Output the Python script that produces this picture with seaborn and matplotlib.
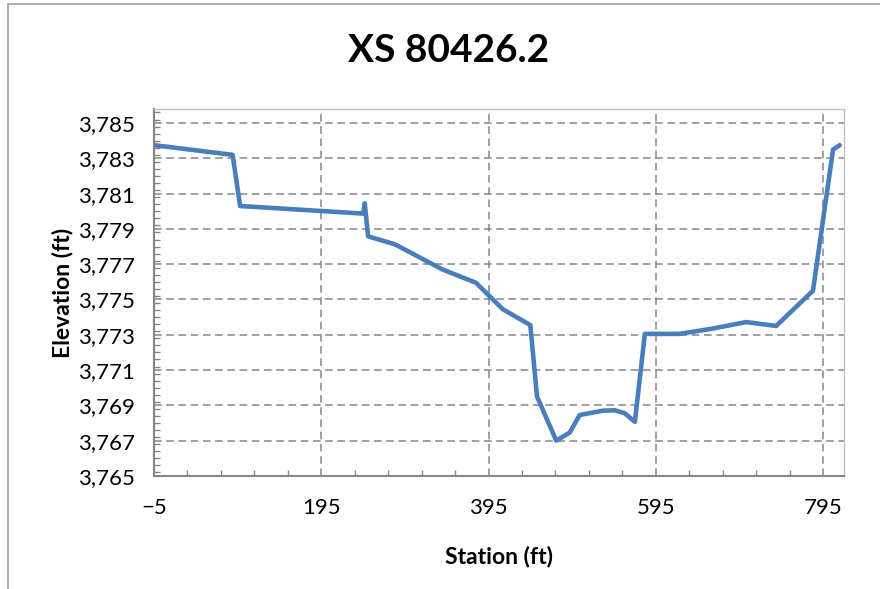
import numpy as np
import pandas as pd
import matplotlib
matplotlib.use("Agg")
import matplotlib.pyplot as plt
import seaborn as sns
from matplotlib.ticker import MultipleLocator, FuncFormatter
from matplotlib.patches import Rectangle

# cross section survey points
station = [-5, 89, 98, 245, 247, 251, 283, 340, 380, 412, 445, 453, 476, 492,
           504, 532, 546, 558, 570, 582, 623, 663, 703, 739, 783, 807, 815]
elevation = [3783.75, 3783.2, 3780.3, 3779.87, 3780.45, 3778.58, 3778.13, 3776.7,
             3775.95, 3774.45, 3773.55, 3769.5, 3767.0, 3767.45, 3768.45, 3768.7,
             3768.72, 3768.55, 3768.07, 3773.05, 3773.05, 3773.35, 3773.72,
             3773.5, 3775.5, 3783.5, 3783.75]
x_ticks = [-5, 195, 395, 595, 795]
y_ticks = list(range(3765, 3786, 2))

df = pd.DataFrame({"Station (ft)": station, "Elevation (ft)": elevation})

sns.set_style("white")
plt.rcParams["font.family"] = ["Lato", "DejaVu Sans"]
plt.rcParams["text.color"] = "black"
plt.rcParams["axes.labelcolor"] = "black"
plt.rcParams["xtick.color"] = "black"
plt.rcParams["ytick.color"] = "black"

fig = plt.figure(figsize=(8.8, 5.89), dpi=100)
ax = fig.add_axes([0.175, 0.192, 0.784, 0.623])

# outer chart frame
fig.patches.append(Rectangle((8 / 880, -0.01), 1.0, 1 - 4 / 589 + 0.01, transform=fig.transFigure,
                             fill=False, edgecolor="#A0A0A0", lw=1.2))

sns.lineplot(data=df, x="Station (ft)", y="Elevation (ft)", sort=False, estimator=None,
             color="#4A7EBB", lw=3.3, ax=ax, zorder=3)

ax.set_xlim(-5, 820)
ax.set_ylim(3765, 3785.8)
ax.set_xticks(x_ticks)
ax.set_yticks(y_ticks)
ax.xaxis.set_minor_locator(MultipleLocator(40, offset=-5))
ax.yaxis.set_minor_locator(MultipleLocator(0.4))
ax.yaxis.set_major_formatter(FuncFormatter(lambda v, p: f"{v:,.0f}"))

ax.grid(True, which="major", color="#868686", ls=(0, (5, 3)), lw=1.1)
ax.tick_params(which="major", direction="inout", length=8, width=1, color="#868686",
               labelsize=16, labelcolor="black")
ax.tick_params(axis="y", which="major", pad=10)
ax.tick_params(axis="x", which="major", pad=12)
ax.tick_params(which="minor", direction="in", length=4, width=1, color="#868686")
ax.tick_params(axis="x", which="minor", bottom=True)
ax.tick_params(axis="y", which="minor", left=True)

for s in ["left", "bottom"]:
    ax.spines[s].set_color("#868686")
    ax.spines[s].set_linewidth(1.5)
for s in ["top", "right"]:
    ax.spines[s].set_color("#BFBFBF")
    ax.spines[s].set_linewidth(1)

ax.set_xlabel("Station (ft)", fontsize=16.5, fontweight="bold", labelpad=20)
ax.set_ylabel("Elevation (ft)", fontsize=16.5, fontweight="bold", labelpad=3)
fig.text(449 / 880, 1 - 51 / 589, "XS 80426.2", fontsize=28, fontweight="bold",
         ha="center", va="center")

fig.savefig("out.png", dpi=100)
